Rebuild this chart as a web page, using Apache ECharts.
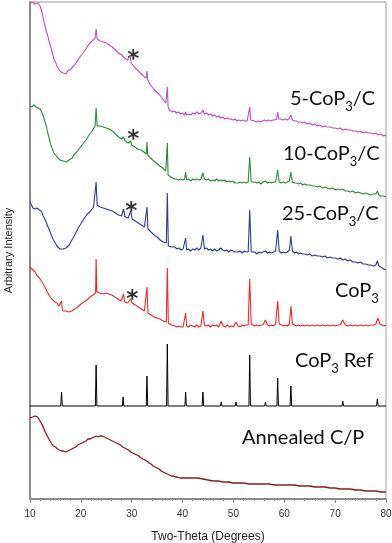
<!DOCTYPE html>
<html>
<head>
<meta charset="utf-8">
<script src="https://cdn.jsdelivr.net/npm/echarts@6/dist/echarts.min.js"></script>
<style>
html,body{margin:0;padding:0;background:#fff;}
#chart{width:392px;height:543px;}
</style>
</head>
<body>
<div id="chart"></div>
<script>
// Offset intensity (arbitrary units) vs two-theta (degrees)
var seriesNames = ['5-CoP3/C', '10-CoP3/C', '25-CoP3/C', 'CoP3', 'CoP3 Ref', 'Annealed C/P'];

var pattern5 = [[10,496],[10.5,497],[11,495],[11.5,496],[12,493],[12.3,488],[12.6,481],[12.9,474],[13.2,468],[13.5,463],[13.8,457],[14.1,452],[14.4,446],[14.7,440],[15,437],[15.3,433],[15.6,431],[15.9,428],[16.2,429],[16.5,426],[16.8,428],[17.1,425],[17.4,428],[17.7,427],[18,430],[18.3,430],[18.6,433],[18.9,434],[19.2,437],[19.5,438],[19.8,442],[20.1,443],[20.4,446],[20.7,447],[21,450],[21.3,451],[21.6,455],[21.9,454],[22.2,458],[22.5,457],[22.8,461],[23.0,470],[23.2,460],[23.5,462],[23.8,458],[24.1,460],[24.4,457],[24.7,458],[25,456],[25.3,457],[25.6,454],[25.9,455],[26.2,452],[26.5,452],[26.8,449],[27.1,450],[27.4,446],[27.7,447],[28,444],[28.3,444],[28.6,441],[28.9,442],[29.2,439],[29.5,438],[29.7,443],[29.9,436],[30.2,435],[30.5,432],[30.8,432],[31.1,429],[31.4,429],[31.7,426],[32,426],[32.3,423],[32.6,423],[32.85,421],[33.0,428],[33.15,419],[33.4,418],[33.7,414],[34,414],[34.3,410],[34.6,410],[34.9,407],[35.2,406],[35.5,404],[35.8,403],[36.1,400],[36.4,399],[36.7,396],[36.85,397],[37.0,412],[37.15,392],[37.4,389],[37.7,388],[38,387],[38.4,388],[38.8,386],[39.2,387],[39.6,385],[40,386],[40.4,384],[40.6,387],[40.8,384],[41.2,385],[41.6,384],[42,386],[42.4,385],[42.8,387],[43.2,385],[43.6,386],[44.0,389],[44.3,385],[44.7,386],[45.1,384],[45.5,385],[45.9,383],[46.3,384],[46.7,382],[47.1,383],[47.5,381],[47.9,382],[48.3,380],[48.7,381],[49.1,380],[49.5,380],[49.9,379],[50.3,380],[50.7,378],[51.1,379],[51.5,378],[51.9,379],[52.3,378],[52.7,378],[53.0,379],[53.2,392],[53.4,379],[53.7,377],[54.1,378],[54.5,377],[54.9,378],[55.3,377],[55.7,378],[56.1,379],[56.5,378],[56.9,379],[57.3,378],[57.7,379],[58.1,379],[58.5,380],[58.7,387],[58.9,380],[59.3,380],[59.7,379],[60.1,380],[60.5,379],[60.9,380],[61.3,384],[61.6,379],[62,378],[62.4,378],[62.8,377],[63.2,377],[63.6,376],[64,377],[64.5,375],[65,376],[65.5,374],[66,375],[66.5,373],[67,374],[67.5,372],[68,373],[68.5,372],[69,372],[69.5,371],[70,371],[70.5,370],[71,371],[71.5,369],[72,370],[72.5,369],[73,369],[73.5,368],[74,368],[74.5,367],[75,368],[75.5,366],[76,367],[76.5,366],[77,366],[77.5,365],[78,366],[78.5,364],[79,365],[79.5,363],[80,364]];

var pattern10 = [[10,393],[10.4,392],[10.8,394],[11.2,392],[11.6,391],[12,390],[12.3,387],[12.6,383],[12.9,378],[13.2,373],[13.5,366],[13.8,360],[14.1,354],[14.4,350],[14.7,346],[15,344],[15.3,342],[15.6,340],[15.9,339],[16.2,337],[16.5,338],[16.8,336],[17.1,337],[17.4,337],[17.7,339],[18,340],[18.3,341],[18.6,344],[18.9,344],[19.2,347],[19.5,348],[19.8,351],[20.1,352],[20.4,355],[20.7,356],[21,359],[21.3,360],[21.6,364],[21.9,365],[22.2,368],[22.5,370],[22.8,373],[23.0,391],[23.2,373],[23.5,375],[23.8,373],[24.1,374],[24.4,372],[24.7,373],[25,371],[25.3,372],[25.6,370],[25.9,370],[26.2,368],[26.5,367],[26.8,365],[27.1,364],[27.4,362],[27.7,362],[28,360],[28.4,362],[28.7,358],[29.0,358],[29.3,356],[29.6,355],[29.8,358],[30.0,354],[30.3,353],[30.6,352],[30.9,352],[31.2,350],[31.5,350],[31.8,349],[32.1,348],[32.4,347],[32.7,346],[32.85,345],[33.0,357],[33.15,344],[33.4,343],[33.7,341],[34,340],[34.3,338],[34.6,337],[34.9,336],[35.2,334],[35.5,333],[35.8,331],[36.1,331],[36.4,329],[36.7,328],[36.85,329],[37.0,356],[37.15,324],[37.4,323],[37.7,322],[38,321],[38.4,320],[38.8,320],[39.2,319],[39.6,320],[40.0,319],[40.4,320],[40.6,327],[40.8,319],[41.2,320],[41.6,318],[42,320],[42.4,319],[42.8,320],[43.2,319],[43.6,320],[44.0,326],[44.3,320],[44.7,319],[45.1,320],[45.5,318],[45.9,319],[46.3,318],[46.7,320],[47.1,318],[47.5,319],[47.9,318],[48.3,319],[48.7,317],[49.1,318],[49.5,317],[49.9,318],[50.3,316],[50.6,318],[50.9,316],[51.3,317],[51.7,316],[52.1,317],[52.5,316],[52.9,317],[53.2,342],[53.5,317],[53.8,316],[54.2,317],[54.6,316],[55,317],[55.4,315],[55.8,317],[56.3,318],[56.7,316],[57.1,317],[57.5,316],[57.9,317],[58.3,317],[58.7,329],[59.0,317],[59.4,316],[59.8,317],[60.2,316],[60.6,317],[61.0,318],[61.3,327],[61.6,317],[62,316],[62.4,316],[62.8,315],[63.2,316],[63.6,314],[64,315],[64.5,314],[65,314],[65.5,313],[66,313],[66.5,312],[67,313],[67.5,311],[68,312],[68.5,311],[69,310],[69.5,311],[70,309],[70.5,310],[71,309],[71.5,310],[72,308],[72.5,308],[73,307],[73.5,308],[74,306],[74.5,307],[75,306],[75.5,305],[76,306],[76.5,305],[77,304],[77.5,305],[78,305],[78.3,308],[78.6,304],[79,303],[79.5,303],[80,302]];

var pattern25 = [[10,297],[10.3,295],[10.6,291],[11,290],[11.4,291],[11.8,289],[12.2,288],[12.6,283],[13,279],[13.4,274],[13.8,269],[14.2,264],[14.6,259],[15,256],[15.3,253],[15.6,252],[15.9,250],[16.2,252],[16.5,250],[16.8,252],[17.1,251],[17.4,253],[17.7,254],[18,257],[18.3,259],[18.6,262],[18.9,265],[19.2,268],[19.5,271],[19.8,273],[20.1,276],[20.4,278],[20.7,281],[21,282],[21.3,285],[21.6,286],[21.9,288],[22.2,290],[22.5,292],[22.8,294],[23.0,317],[23.2,294],[23.5,293],[23.8,292],[24.1,293],[24.4,291],[24.7,292],[25,290],[25.3,291],[25.6,289],[25.9,289],[26.2,288],[26.5,287],[26.8,286],[27.1,286],[27.4,284],[27.7,284],[28.0,283],[28.4,290],[28.7,282],[29.0,281],[29.3,281],[29.5,281],[29.8,288],[30.1,280],[30.4,278],[30.7,278],[31.0,276],[31.3,276],[31.6,274],[31.9,274],[32.2,273],[32.5,272],[32.8,271],[33.0,292],[33.2,270],[33.5,268],[33.8,267],[34.1,265],[34.4,264],[34.7,262],[35,262],[35.3,260],[35.6,259],[35.9,258],[36.2,257],[36.5,256],[36.8,256],[37.0,306],[37.2,253],[37.5,252],[37.8,252],[38.1,251],[38.5,252],[38.9,250],[39.3,251],[39.7,249],[40.1,250],[40.4,249],[40.6,261],[40.8,249],[41.2,250],[41.6,248],[42,250],[42.4,249],[42.8,251],[43.2,249],[43.6,251],[44.0,264],[44.3,250],[44.7,251],[45.1,249],[45.5,250],[45.9,248],[46.3,250],[46.7,248],[47.1,249],[47.5,251],[47.9,249],[48.3,248],[48.7,249],[49.1,247],[49.5,249],[49.9,248],[50.3,247],[50.6,249],[50.9,247],[51.3,248],[51.7,246],[52.1,248],[52.5,247],[52.9,247],[53.2,289],[53.5,247],[53.8,246],[54.2,247],[54.6,245],[55,247],[55.4,246],[55.8,247],[56.3,248],[56.7,246],[57.1,247],[57.5,246],[57.9,247],[58.3,248],[58.7,269],[59.0,248],[59.4,246],[59.8,247],[60.2,246],[60.6,247],[61.0,249],[61.3,263],[61.6,248],[62,246],[62.4,247],[62.8,245],[63.2,246],[63.6,245],[64,245],[64.5,244],[65,245],[65.5,243],[66,244],[66.5,243],[67,243],[67.5,242],[68,243],[68.5,241],[69,242],[69.5,241],[70,241],[70.5,240],[71,241],[71.5,239],[72,240],[72.5,238],[73,239],[73.5,237],[74,237],[74.5,236],[75,237],[75.5,235],[76,235],[76.5,234],[77,234],[77.5,233],[78,234],[78.3,238],[78.6,233],[79,232],[79.5,230],[80,229]];

var patternCoP3 = [[10,232],[10.3,231],[10.6,229],[11,227],[11.3,224],[11.7,222],[12.1,219],[12.5,216],[12.9,212],[13.3,208],[13.7,204],[14.1,201],[14.5,199],[14.9,197],[15.3,196],[15.7,193],[16.0,191],[16.2,198],[16.4,188],[16.7,187],[17.0,188],[17.3,186],[17.6,187],[17.9,187],[18.2,188],[18.5,189],[18.8,190],[19.1,190],[19.4,192],[19.7,193],[20,195],[20.3,196],[20.6,197],[20.9,199],[21.2,199],[21.5,201],[21.8,202],[22.1,203],[22.4,204],[22.7,205],[22.9,206],[23.0,240],[23.15,207],[23.4,206],[23.7,206],[24,207],[24.3,205],[24.6,206],[24.9,206],[25.2,205],[25.5,205],[25.8,204],[26.1,204],[26.4,202],[26.7,202],[27.0,201],[27.3,200],[27.6,199],[27.9,198],[28.2,199],[28.4,205],[28.6,197],[28.9,197],[29.2,196],[29.5,197],[29.8,200],[30.1,196],[30.4,195],[30.7,194],[31,193],[31.3,192],[31.6,191],[31.9,190],[32.2,189],[32.5,188],[32.8,188],[33.0,212],[33.2,186],[33.5,185],[33.8,184],[34.1,183],[34.4,182],[34.7,182],[35,181],[35.3,181],[35.6,180],[35.9,180],[36.2,178],[36.5,178],[36.8,177],[37.0,231],[37.2,176],[37.5,175],[37.8,174],[38.1,173],[38.5,173],[38.9,172],[39.3,173],[39.7,172],[40.1,172],[40.4,173],[40.6,186],[40.8,173],[41.2,172],[41.6,174],[42,173],[42.4,172],[42.8,174],[43.2,172],[43.6,173],[44.0,188],[44.3,174],[44.7,173],[45.1,174],[45.5,172],[45.9,174],[46.3,173],[46.7,174],[47.1,172],[47.6,178],[48,173],[48.4,172],[48.8,174],[49.2,172],[49.6,173],[50,172],[50.5,177],[50.9,173],[51.3,172],[51.7,174],[52.1,173],[52.5,174],[52.9,174],[53.2,220],[53.5,175],[53.8,174],[54.2,173],[54.6,174],[55,173],[55.4,174],[55.8,174],[56.3,179],[56.7,174],[57.1,173],[57.5,174],[57.9,173],[58.3,175],[58.7,198],[59.0,175],[59.4,174],[59.8,173],[60.2,174],[60.6,173],[61.0,175],[61.3,193],[61.6,175],[62,174],[62.4,173],[62.8,174],[63.2,173],[63.6,174],[64,173],[64.5,174],[65,173],[65.5,174],[66,173],[66.5,174],[67,173],[67.5,174],[68,173],[68.5,174],[69,173],[69.5,174],[70,173],[70.5,174],[71,174],[71.5,179],[72,174],[72.5,173],[73,174],[73.5,173],[74,174],[74.5,173],[75,174],[75.5,173],[76,174],[76.5,173],[77,174],[77.5,174],[78,175],[78.4,181],[78.8,175],[79.2,174],[79.6,173],[80,174]];

// Reference stick pattern: baseline and peak positions / heights
var refBaseline = 93;
var refPeakTheta  = [16.2, 23.0, 28.3, 33.0, 37.0, 40.6, 44.0, 47.6, 50.5, 53.2, 56.3, 58.7, 61.3, 69.0, 71.5, 73.8, 78.3];
var refPeakHeight = [107,  134,  102,  123,  155,  107,  107,  97,   97,   144,  97,   121,  113,  94,   98,   94,   100];

var patternAnnealed = [[10,81],[10.5,82],[11,83],[11.5,82],[11.8,80],[12.2,76],[12.6,72],[13,67],[13.4,63],[13.8,59],[14.2,56],[14.6,53],[15,52],[15.4,50],[15.8,49],[16.2,48],[16.6,48],[17,47],[17.4,48],[17.8,49],[18.2,50],[18.6,51],[19,52],[19.4,54],[19.8,55],[20.2,56],[20.6,57],[21,58],[21.4,60],[21.8,60],[22.2,61],[22.6,62],[23,63],[23.4,62],[23.8,63],[24.2,63],[24.6,62],[25,61],[25.4,60],[25.8,59],[26.2,58],[26.6,57],[27,56],[27.4,55],[27.8,54],[28.2,52],[28.6,51],[29,50],[29.4,49],[29.8,47],[30.2,46],[30.6,45],[31,44],[31.4,43],[31.8,41],[32.2,40],[32.6,39],[33,38],[33.4,36],[33.8,35],[34.2,33],[34.6,32],[35,31],[35.4,30],[35.8,28],[36.2,27],[36.6,26],[37,25],[37.4,24],[37.8,23],[38.2,23],[38.6,22],[39,22],[39.5,21],[40,21],[41,21],[42,21],[43,21],[44,20],[45,19],[46,18],[47,18],[48,17],[49,17],[50,16],[51,16],[52,16],[53,15],[54,15],[55,15],[56,15],[57,15],[58,14],[59,14],[60,14],[61,14],[62,14],[63,13],[64,13],[65,13],[66,12],[67,12],[68,12],[69,11],[70,11],[71,10],[72,10],[73,10],[74,9],[75,9],[76,8],[77,8],[78,8],[79,7],[80,7]];

// asterisk markers (two-theta, intensity)
var starMarks = [[30.3, 446], [30.3, 366], [29.9, 294], [30.1, 206]];

// build stick pattern from the peak list
var patternRef = [[10, refBaseline]];
for (var i = 0; i < refPeakTheta.length; i++) {
  var t = refPeakTheta[i];
  patternRef.push([t - 0.15, refBaseline], [t, refPeakHeight[i]], [t + 0.15, refBaseline]);
}
patternRef.push([80, refBaseline]);

var colors = ['#bf4fbb', '#2c8a3c', '#2b3b9c', '#f02828', '#000000', '#8b1c1c'];
var widths = [1.1, 1.1, 1.1, 1.1, 1, 1.3];
var datasets = [pattern5, pattern10, pattern25, patternCoP3, patternRef, patternAnnealed];

var series = datasets.map(function (d, k) {
  return {
    name: seriesNames[k], type: 'line', data: d, showSymbol: false, symbol: 'none',
    lineStyle: { color: colors[k], width: widths[k] }, silent: true, animation: false, z: 3
  };
});

series.push({
  type: 'scatter', data: starMarks, symbolSize: 0, silent: true, animation: false,
  label: { show: true, formatter: '*', position: 'inside', fontSize: 23, fontWeight: 'bold',
           fontFamily: 'DejaVu Sans', color: '#000', offset: [0, 7] }
});

var subRich = {
  m: { fontSize: 20, fontFamily: 'Lato', color: '#111', lineHeight: 28 },
  s: { fontSize: 13, fontFamily: 'Lato', color: '#111', lineHeight: 13, verticalAlign: 'bottom' }
};
function lbl(x, y, txt) {
  return { type: 'text', left: x, top: y, silent: true, z: 10,
    style: { text: txt, rich: subRich, font: '20px Lato', fill: '#111' } };
}

var chart = echarts.init(document.getElementById('chart'), null, { renderer: 'canvas' });
chart.setOption({
  animation: false,
  backgroundColor: '#fff',
  grid: { left: 30, right: 6, top: 2, bottom: 44, show: true, borderColor: '#999', borderWidth: 1,
          backgroundColor: 'transparent', containLabel: false, outerBoundsMode: 'none' },
  xAxis: {
    type: 'value', min: 10, max: 80, interval: 10,
    name: 'Two-Theta (Degrees)', nameLocation: 'middle', nameGap: 32,
    nameTextStyle: { fontSize: 12, fontFamily: 'Liberation Sans', color: '#222' },
    axisLine: { show: true, lineStyle: { color: '#8c8c8c', width: 2 } },
    axisTick: { show: true, length: 4, lineStyle: { color: '#8c8c8c' } },
    minorTick: { show: true, splitNumber: 5, length: 2, lineStyle: { color: '#8c8c8c' } },
    splitLine: { show: false },
    axisLabel: { fontSize: 10, fontFamily: 'Liberation Sans', color: '#333', margin: 10 }
  },
  yAxis: {
    type: 'value', min: 0, max: 497,
    name: 'Arbitrary Intensity', nameLocation: 'middle', nameGap: 16,
    nameTextStyle: { fontSize: 11, fontFamily: 'Liberation Sans', color: '#222' },
    axisLine: { show: true, lineStyle: { color: '#8c8c8c', width: 2 } },
    axisTick: { show: false }, axisLabel: { show: false }, splitLine: { show: false }
  },
  graphic: [
    lbl(290, 89, '{m|5-CoP}{s|3}{m|/C}'),
    lbl(283, 144, '{m|10-CoP}{s|3}{m|/C}'),
    lbl(282, 204, '{m|25-CoP}{s|3}{m|/C}'),
    lbl(335, 281, '{m|CoP}{s|3}'),
    lbl(295, 351, '{m|CoP}{s|3}{m| Ref}'),
    lbl(242, 428, '{m|Annealed C/P}')
  ],
  series: series
});
</script>
</body>
</html>
